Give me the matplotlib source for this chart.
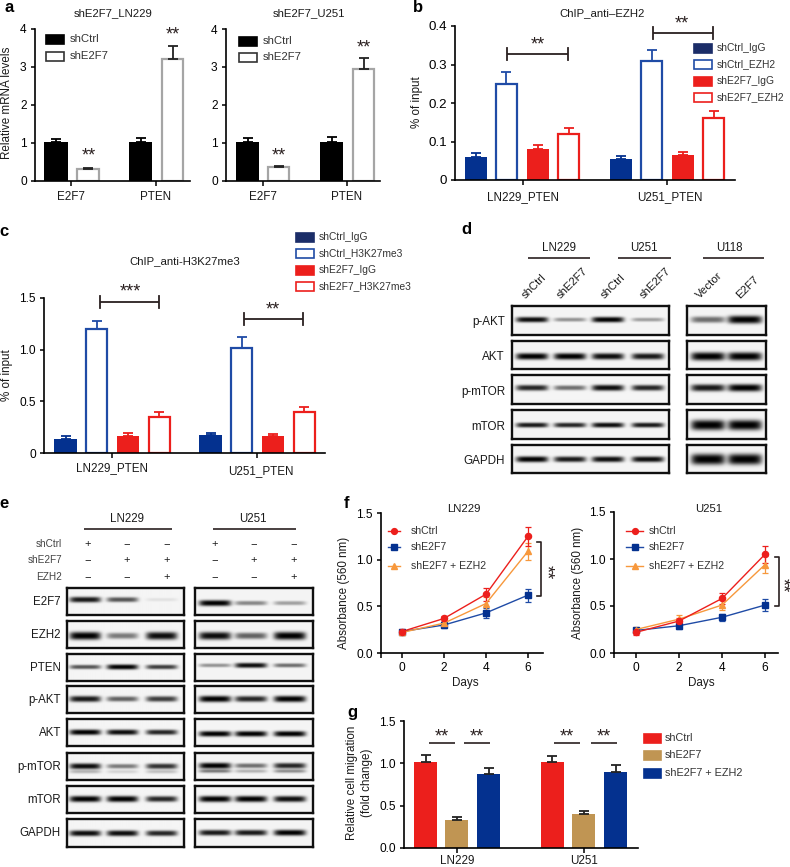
import numpy as np
import matplotlib
matplotlib.use('Agg')
import matplotlib.pyplot as plt
from matplotlib.patches import Rectangle

plt.rcParams['font.family'] = ['Liberation Sans', 'DejaVu Sans']
plt.rcParams['font.size'] = 8.2

W, H = 790, 867
NAVY = '#04318f'
NAVY_KEY = '#1b2d68'
BLUE = '#1f4ba6'
RED = '#ec1f1c'
TAN = '#c09553'
ORANGE = '#f7983c'
DARK = '#2a2020'

# panel a
a_cats = ['E2F7', 'PTEN']
a_ln229_ctrl = [1.02, 1.02]
a_ln229_ctrl_err = [0.06, 0.10]
a_ln229_sh = [0.30, 3.20]
a_ln229_sh_err = [0.03, 0.35]
a_u251_ctrl = [1.02, 1.02]
a_u251_ctrl_err = [0.10, 0.12]
a_u251_sh = [0.35, 2.95]
a_u251_sh_err = [0.03, 0.28]

# panel b
b_groups = ['LN229_PTEN', 'U251_PTEN']
b_ctrl_igg = [0.06, 0.055]
b_ctrl_igg_err = [0.009, 0.008]
b_ctrl_ezh2 = [0.25, 0.31]
b_ctrl_ezh2_err = [0.03, 0.027]
b_sh_igg = [0.08, 0.065]
b_sh_igg_err = [0.011, 0.008]
b_sh_ezh2 = [0.12, 0.16]
b_sh_ezh2_err = [0.015, 0.02]
b_keys = ['shCtrl_IgG', 'shCtrl_EZH2', 'shE2F7_IgG', 'shE2F7_EZH2']

# panel c
c_ctrl_igg = [0.14, 0.175]
c_ctrl_igg_err = [0.02, 0.018]
c_ctrl_h3 = [1.20, 1.02]
c_ctrl_h3_err = [0.08, 0.10]
c_sh_igg = [0.165, 0.165]
c_sh_igg_err = [0.025, 0.015]
c_sh_h3 = [0.35, 0.40]
c_sh_h3_err = [0.045, 0.045]
c_keys = ['shCtrl_IgG', 'shCtrl_H3K27me3', 'shE2F7_IgG', 'shE2F7_H3K27me3']

# panel d blots, band strength per lane
d_rows = ['p-AKT', 'AKT', 'p-mTOR', 'mTOR', 'GAPDH']
d_left = [[.95, .40, 1.0, .35], [1.0, 1.0, .95, .90], [.85, .55, .95, .85],
          [.90, .85, .95, .90], [1.0, .90, .95, .95]]
d_left_thick = [2.8, 3.3, 3.0, 2.6, 3.0]
d_right = [[.55, 1.0], [1.0, 1.0], [.90, 1.0], [1.0, 1.0], [1.0, 1.0]]
d_right_thick = [4.0, 4.2, 3.6, 5.2, 5.5]
d_ypos = [0.47, 0.55, 0.46, 0.52, 0.51]
d_lanes_top = ['shCtrl', 'shE2F7', 'shCtrl', 'shE2F7', 'Vector', 'E2F7']

# panel e blots
e_rows = ['E2F7', 'EZH2', 'PTEN', 'p-AKT', 'AKT', 'p-mTOR', 'mTOR', 'GAPDH']
e_left = [[.90, .65, .08], [1.0, .50, .95], [.65, 1.0, .75], [.90, .60, .75],
          [1.0, .95, .85], [.95, .50, .80], [1.0, 1.0, .85], [.95, .95, .85]]
e_right = [[1.0, .45, .35], [.95, .60, 1.0], [.40, .95, .55], [1.0, .85, 1.0],
           [1.0, 1.0, 1.0], [1.0, .55, .85], [1.0, 1.0, .95], [.90, .90, 1.0]]
e_thick = [3.0, 4.0, 2.6, 3.2, 2.8, 3.0, 3.0, 3.0]
e_ypos_left = [0.43, 0.55, 0.48, 0.48, 0.49, 0.49, 0.50, 0.51]
e_ypos_right = [0.56, 0.55, 0.42, 0.48, 0.55, 0.47, 0.50, 0.49]
e_second_left = [0, 0, 0, 0, 0, .30, 0, 0]
e_second_right = [0, 0, 0, 0, 0, .55, 0, 0]
e_treat = ['shCtrl', 'shE2F7', 'EZH2']
e_signs = [['+', '\u2212', '\u2212'], ['\u2212', '+', '+'], ['\u2212', '\u2212', '+']]

# panel f
days = [0, 2, 4, 6]
f_ln_ctrl = [0.23, 0.37, 0.63, 1.25]
f_ln_ctrl_err = [0.03, 0.03, 0.07, 0.10]
f_ln_sh = [0.23, 0.30, 0.43, 0.62]
f_ln_sh_err = [0.02, 0.03, 0.05, 0.07]
f_ln_combo = [0.22, 0.32, 0.53, 1.09]
f_ln_combo_err = [0.03, 0.03, 0.07, 0.09]
f_u_ctrl = [0.22, 0.34, 0.58, 1.05]
f_u_ctrl_err = [0.03, 0.03, 0.06, 0.09]
f_u_sh = [0.24, 0.29, 0.38, 0.51]
f_u_sh_err = [0.03, 0.03, 0.04, 0.06]
f_u_combo = [0.25, 0.36, 0.51, 0.94]
f_u_combo_err = [0.03, 0.04, 0.05, 0.09]
f_keys = ['shCtrl', 'shE2F7', 'shE2F7 + EZH2']

# panel g
g_groups = ['LN229', 'U251']
g_ctrl = [1.01, 1.01]
g_ctrl_err = [0.09, 0.08]
g_sh = [0.33, 0.40]
g_sh_err = [0.04, 0.04]
g_combo = [0.87, 0.90]
g_combo_err = [0.07, 0.08]

fig = plt.figure(figsize=(W / 100, H / 100), dpi=100, facecolor='white')

# overlay in pixel coordinates for labels and keys
ov = fig.add_axes([0, 0, 1, 1], zorder=20)
ov.set_xlim(0, W)
ov.set_ylim(H, 0)
ov.axis('off')


def txt(x, y, s, **kw):
    kw.setdefault('ha', 'center')
    kw.setdefault('va', 'center')
    kw.setdefault('color', '#1a1a1a')
    ov.text(x, y, s, **kw)


def stars(x, y, s='**', rot=0):
    dy = 0 if rot else 3
    txt(x, y + dy, s, fontsize=13, color=DARK, rotation=rot)


def hline(x0, x1, y, lw=1.2, color=DARK):
    ov.plot([x0, x1], [y, y], color=color, lw=lw, solid_capstyle='butt')


def bracket(x0, x1, y, cap=6):
    hline(x0, x1, y, lw=1.3)
    for x in (x0, x1):
        ov.plot([x, x], [y - cap, y + cap], color=DARK, lw=1.3)


def key(x, y, label, color, filled, w=18, h=9, tx=None, fs=7.4):
    ov.add_patch(Rectangle((x, y - h / 2), w, h, facecolor=color if filled else 'white',
                           edgecolor=color, lw=1.2))
    txt(tx, y, label, ha='left', fontsize=fs, color='#333333')


def panel_axes(left, right, top, bottom, ylim, yticks, yfmt, xticks=None, yfs=8.6):
    ax = fig.add_axes([left / W, 1 - bottom / H, (right - left) / W, (bottom - top) / H])
    ax.set_xlim(left, right)
    ax.set_ylim(*ylim)
    ax.spines['top'].set_visible(False)
    ax.spines['right'].set_visible(False)
    ax.spines['left'].set_linewidth(1.2)
    ax.spines['bottom'].set_linewidth(1.2)
    ax.set_yticks(yticks)
    ax.set_yticklabels([yfmt % v for v in yticks], fontsize=yfs)
    ax.tick_params(axis='y', length=3, width=1.1, pad=3)
    if xticks is not None:
        ax.set_xticks(xticks)
        ax.set_xticklabels([])
        ax.tick_params(axis='x', length=3.5, width=1.1)
    ax.patch.set_alpha(0)
    return ax


def bars(ax, xs, width, vals, errs, color, filled=True, errcolor=None, lw=1.6):
    errcolor = errcolor or color
    ax.bar(xs, vals, width=width, facecolor=color if filled else 'white',
           edgecolor=color, linewidth=lw if not filled else 0)
    ax.errorbar(xs, vals, yerr=[np.zeros(len(vals)), errs], fmt='none',
                ecolor=errcolor, elinewidth=1.3, capsize=3.6, capthick=1.3)


def blot(x0, x1, y0, y1, lanes, half, strength, thick, ypos=0.45, second=None):
    h = int((y1 - y0) * 3)
    w = int((x1 - x0) * 3)
    X, Y = np.meshgrid(np.linspace(x0, x1, w), np.linspace(y0, y1, h))
    yc = y0 + ypos * (y1 - y0)
    img = np.full((h, w), 0.96)
    for lane, s in zip(lanes, strength):
        xshape = np.exp(-(np.abs(X - lane) / half) ** 6)
        t = thick * (0.55 + 0.45 * s)
        img -= 0.96 * s * xshape * np.exp(-(np.abs(Y - yc) / t) ** 2.6)
        if second:
            img -= 0.9 * second * s * xshape * np.exp(-((Y - yc - 5.5) / 1.8) ** 2)
    ax = fig.add_axes([x0 / W, 1 - y1 / H, (x1 - x0) / W, (y1 - y0) / H], zorder=3)
    ax.imshow(np.clip(img, 0, 1), cmap='gray', vmin=0, vmax=1, aspect='auto',
              interpolation='bilinear')
    ax.set_xticks([])
    ax.set_yticks([])
    for sp in ax.spines.values():
        sp.set_linewidth(1.7)
        sp.set_color('#101010')


# panel letters
for x, y, s in [(9, 8, 'a'), (418, 7, 'b'), (4, 231, 'c'), (466, 230, 'd'),
                (4, 504, 'e'), (346, 503, 'f'), (352, 713, 'g')]:
    txt(x, y, s, fontsize=12, fontweight='bold', color='black')

# ---- a ----
ax = panel_axes(35, 190, 28.5, 180.5, (0, 4), [0, 1, 2, 3, 4], '%d', [71, 156])
bars(ax, [56, 140.5], 23.5, a_ln229_ctrl, a_ln229_ctrl_err, 'black')
bars(ax, [88, 172.5], 21.5, a_ln229_sh, a_ln229_sh_err, '#a5a5a5', False, '#222222')
ax = panel_axes(226, 380, 29, 180.5, (0, 4), [0, 1, 2, 3, 4], '%d', [263, 347])
bars(ax, [247.5, 331.5], 23.5, a_u251_ctrl, a_u251_ctrl_err, 'black')
bars(ax, [278.5, 363.5], 21.5, a_u251_sh, a_u251_sh_err, '#a5a5a5', False, '#222222')
txt(113, 13, 'shE2F7_LN229')
txt(309, 13, 'shE2F7_U251')
txt(7, 103, 'Relative mRNA levels', rotation=90, fontsize=8.4)
for x, c in zip([71, 156, 263, 347], a_cats * 2):
    txt(x, 197, c, fontsize=8.4)
stars(173, 32)
stars(89, 153)
stars(364, 45)
stars(279, 153)
for x0, tx, ya, yb in [(46, 70, 39, 56), (239, 263, 41, 57)]:
    key(x0, ya, 'shCtrl', 'black', True, tx=tx, fs=8.2)
    key(x0, yb, 'shE2F7', '#333333', False, tx=tx, fs=8.2)

# ---- b ----
ax = panel_axes(455, 735, 26, 180, (0, 0.4), [0, 0.1, 0.2, 0.3, 0.4], '%.1f', [523, 667])
ax.set_yticklabels(['0', '0.1', '0.2', '0.3', '0.4'], fontsize=9.6)
bars(ax, [476, 621], 22, b_ctrl_igg, b_ctrl_igg_err, NAVY)
bars(ax, [506.5, 651.5], 21, b_ctrl_ezh2, b_ctrl_ezh2_err, BLUE, False)
bars(ax, [538, 682.5], 22, b_sh_igg, b_sh_igg_err, RED)
bars(ax, [568.5, 713.5], 21, b_sh_ezh2, b_sh_ezh2_err, RED, False)
txt(602, 13, 'ChIP_anti\u2013EZH2')
txt(417, 102, '% of input', rotation=90, fontsize=8.4)
txt(523, 197, b_groups[0], fontsize=8.4)
txt(670, 197, b_groups[1], fontsize=8.4)
bracket(507, 568, 54)
bracket(653, 713, 33)
stars(538, 42)
stars(682, 21)
for y, lab, col, fil in zip([48, 64, 81, 97], b_keys, [NAVY_KEY, BLUE, RED, RED],
                            [True, False, True, False]):
    key(694, y, lab, col, fil, tx=717)

# ---- c ----
ax = panel_axes(44, 325, 298, 453, (0, 1.5), [0, 0.5, 1.0, 1.5], '%.1f', [112, 257])
ax.set_yticklabels(['0', '0.5', '1.0', '1.5'], fontsize=8.6)
bars(ax, [65.5, 210.5], 22.5, c_ctrl_igg, c_ctrl_igg_err, NAVY)
bars(ax, [96.5, 241.5], 21, c_ctrl_h3, c_ctrl_h3_err, BLUE, False)
bars(ax, [128, 273], 22, c_sh_igg, c_sh_igg_err, RED)
bars(ax, [159, 304], 21, c_sh_h3, c_sh_h3_err, RED, False)
txt(185, 261, 'ChIP_anti-H3K27me3')
txt(7, 375, '% of input', rotation=90, fontsize=8.4)
txt(112, 468, b_groups[0], fontsize=8.4)
txt(261, 471, b_groups[1], fontsize=8.4)
bracket(100, 159, 302)
bracket(244, 303, 319)
stars(130, 289, '***')
stars(273, 307)
for y, lab, col, fil in zip([237, 253, 270, 286], c_keys, [NAVY_KEY, BLUE, RED, RED],
                            [True, False, True, False]):
    key(296, y, lab, col, fil, tx=319)

# ---- d ----
d_tops = [306, 341, 375, 410, 445]
d_bots = [335, 369, 404, 439, 473]
for i, row in enumerate(d_rows):
    blot(512, 669, d_tops[i], d_bots[i], [532, 570, 608, 648], 16, d_left[i], d_left_thick[i], d_ypos[i])
    blot(687, 766, d_tops[i], d_bots[i], [708, 745], 17, d_right[i], d_right_thick[i], d_ypos[i])
    txt(505, (d_tops[i] + d_bots[i]) / 2 + 2, row, ha='right', fontsize=8.4)
for x, lab in zip([559, 644, 729], ['LN229', 'U251', 'U118']):
    txt(x, 248, lab, fontsize=8.3)
for x0, x1 in [(528, 590), (618, 671), (703, 764)]:
    hline(x0, x1, 258)
for x, y, lab in zip([534, 572, 613, 655, 709, 748], [286, 283, 286, 283, 285, 287], d_lanes_top):
    txt(x, y, lab, rotation=45, fontsize=8.2)

# ---- e ----
e_tops = [588, 621, 654, 686, 719, 753, 786, 819]
e_bots = [615, 648, 681, 713, 746, 780, 813, 847]
for i, row in enumerate(e_rows):
    blot(67, 184, e_tops[i], e_bots[i], [85, 122, 161], 15.5, e_left[i], e_thick[i], e_ypos_left[i], e_second_left[i])
    blot(195, 313, e_tops[i], e_bots[i], [215, 251, 290], 16, e_right[i], e_thick[i], e_ypos_right[i], e_second_right[i])
    txt(61, (e_tops[i] + e_bots[i]) / 2 + 0.5, row, ha='right', fontsize=8.3)
txt(127, 519, 'LN229', fontsize=8.3)
txt(253, 519, 'U251', fontsize=8.3)
hline(84, 172, 529)
hline(213, 296, 529)
for y, lab, sg in zip([544, 560, 577], e_treat, e_signs):
    txt(62, y, lab, ha='right', fontsize=7.2, color='#444444')
    for x, s in zip([88, 127, 167, 215, 254, 294], sg * 2):
        txt(x, y, s, fontsize=8)


# ---- f ----
def growth(left, right, top, bottom, x0px, per_day, ctrl, ce, sh, se, combo, coe):
    ax = panel_axes(left, right, top, bottom, (0, 1.5), [0, 0.5, 1.0, 1.5], '%.1f')
    ax.set_xlim((left - x0px) / per_day, (right - x0px) / per_day)
    ax.set_xticks(days + [ax.get_xlim()[0]])
    ax.set_xticklabels([str(d) for d in days] + [''], fontsize=8.6)
    ax.tick_params(axis='x', length=3.5, width=1.1, pad=3)
    for v, e, c, m, ms in [(sh, se, BLUE, 's', 4), (combo, coe, ORANGE, '^', 4), (ctrl, ce, RED, 'o', 4.4)]:
        ax.errorbar(days, v, yerr=e, color=c, marker=m, ms=ms, lw=1, elinewidth=0.9,
                    capsize=2.5, capthick=0.9, clip_on=False,
                    mfc=NAVY if c == BLUE else c, mec=NAVY if c == BLUE else c)
    return ax


growth(381, 543, 513, 653, 402, 21, f_ln_ctrl, f_ln_ctrl_err, f_ln_sh, f_ln_sh_err, f_ln_combo, f_ln_combo_err)
growth(614, 778, 512, 653, 636, 21.5, f_u_ctrl, f_u_ctrl_err, f_u_sh, f_u_sh_err, f_u_combo, f_u_combo_err)
txt(464, 509, 'LN229')
txt(709, 509, 'U251')
txt(465, 683, 'Days', fontsize=8.4)
txt(701, 683, 'Days', fontsize=8.4)
txt(344, 593, 'Absorbance (560 nm)', rotation=90, fontsize=8.4)
txt(578, 583, 'Absorbance (560 nm)', rotation=90, fontsize=8.4)
for (lx0, lx1, tx) in [(388, 400, 411), (626, 643, 649)]:
    for y, lab, c, m in zip([531, 547, 566], f_keys, [RED, BLUE, ORANGE], ['o', 's', '^']):
        ov.plot([lx0, lx1], [y, y], color=c, lw=1)
        ov.plot([(lx0 + lx1) / 2], [y], color=NAVY if c == BLUE else c, marker=m, ms=4.2)
        txt(tx, y, lab, ha='left', fontsize=7.6, color='#333333')
for x, y0, y1 in [(541, 542, 596), (779, 557, 606)]:
    ov.plot([x - 4, x, x, x - 4], [y0, y0, y1, y1], color=DARK, lw=1.2)
stars(546, 572, rot=270)
stars(781.5, 585, rot=270)

# ---- g ----
ax = panel_axes(404, 638, 721, 848, (0, 1.5), [0, 0.5, 1.0, 1.5], '%.1f', [457, 584])
bars(ax, [425.5, 552], 23, g_ctrl, g_ctrl_err, RED, errcolor='#222222')
bars(ax, [456.5, 583.5], 23, g_sh, g_sh_err, TAN, errcolor='#222222')
bars(ax, [488.5, 615.5], 23, g_combo, g_combo_err, NAVY, errcolor='#222222')
txt(457, 861, g_groups[0], fontsize=8.4)
txt(584, 861, g_groups[1], fontsize=8.4)
txt(352, 783, 'Relative cell migration', rotation=90, fontsize=8.4)
txt(367, 783, '(fold change)', rotation=90, fontsize=8.4)
for x0, x1 in [(429, 455), (464, 490), (554, 580), (591, 617)]:
    hline(x0, x1, 743)
    stars((x0 + x1) / 2, 734)
for y, lab, col in zip([738, 755, 773], f_keys, [RED, TAN, NAVY]):
    key(644, y, lab, col, True, w=17, h=9, tx=665, fs=7.8)

fig.savefig('out.png', dpi=100)
